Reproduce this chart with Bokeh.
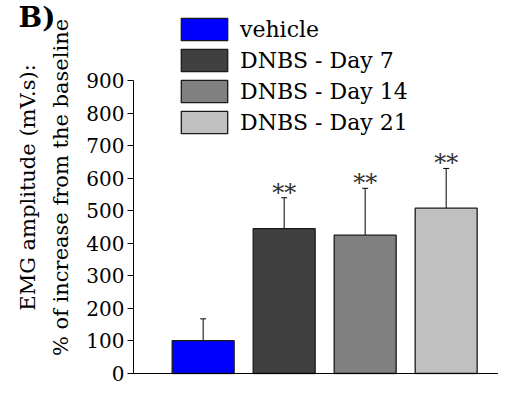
from bokeh.plotting import figure
from bokeh.models import Range1d, FixedTicker, ColumnDataSource, Whisker, TeeHead, Legend, LegendItem, Span, Title
from bokeh.core.properties import value
from bokeh.embed import file_html
from bokeh.resources import INLINE

groups = ["vehicle", "DNBS - Day 7", "DNBS - Day 14", "DNBS - Day 21"]
means = [101, 445, 425, 508]
errors = [67, 95, 144, 122]
signif = ["", "**", "**", "**"]
colors = ["#0000FF", "#404040", "#808080", "#C0C0C0"]
y_ticks = [0, 100, 200, 300, 400, 500, 600, 700, 800, 900]
panel_tag = "B)"
y_label_lines = ["EMG amplitude (mV.s):", "% of increase from the baseline"]

FONT = "DejaVu Serif"

xs = list(range(1, len(groups) + 1))
uppers = [m + e for m, e in zip(means, errors)]
src = ColumnDataSource(dict(x=xs, top=means, upper=uppers, group=groups,
                            color=colors, sig=signif))

p = figure(width=498, height=386, output_backend="svg", toolbar_location=None,
           x_range=Range1d(0.14, 4.646), y_range=Range1d(-3, 1146),
           x_axis_location=None,
           min_border_left=133, min_border_right=0, min_border_top=0, min_border_bottom=12)
p.grid.visible = False
p.outline_line_color = None

bars = p.vbar(x="x", top="top", width=0.765, source=src, fill_color="color",
              line_color="#1a1a1a", line_width=1.3)

wh = Whisker(base="x", lower="top", upper="upper", source=src,
             upper_head=TeeHead(size=6, line_width=1, line_color="black"),
             lower_head=None, line_color="black", line_width=1)
p.add_layout(wh)

p.text(x="x", y="upper", text="sig", source=src, text_align="center",
       text_baseline="bottom", y_offset=9, text_font=value(FONT),
       text_font_size="24px", text_color="#333333")

baseline = Span(location=0, dimension="width", line_color="black", line_width=1)
p.add_layout(baseline)

ya = p.yaxis[0]
ya.ticker = FixedTicker(ticks=y_ticks)
ya.bounds = (0, 900)
ya.major_tick_out = 6
ya.major_tick_in = 0
ya.minor_tick_line_color = None
ya.major_label_text_font = FONT
ya.major_label_text_font_size = "20px"
ya.major_label_text_color = "black"
ya.major_label_standoff = 3
ya.axis_label = "\n".join(y_label_lines)
ya.axis_label_text_font = FONT
ya.axis_label_text_font_size = "21px"
ya.axis_label_text_line_height = 1.4
ya.axis_label_text_font_style = "normal"
ya.axis_label_text_color = "black"
ya.axis_label_standoff = 10
ya.axis_line_color = "black"

legend = Legend(items=[LegendItem(label=g, renderers=[bars], index=i) for i, g in enumerate(groups)],
                location=(42, 238), orientation="vertical",
                glyph_width=58, glyph_height=28, label_height=28, spacing=3,
                padding=0, margin=0, border_line_color=None, background_fill_alpha=0,
                label_text_font=FONT, label_text_font_size="22px", label_standoff=7,
                label_text_color="black")
p.add_layout(legend, "center")

tag = Title(text=panel_tag, align="left", vertical_align="bottom", offset=-115, standoff=-66,
            text_font=FONT, text_font_size="28px", text_font_style="bold",
            text_color="black")
p.add_layout(tag, "above")

open("out.html", "w").write(file_html(p, INLINE))
